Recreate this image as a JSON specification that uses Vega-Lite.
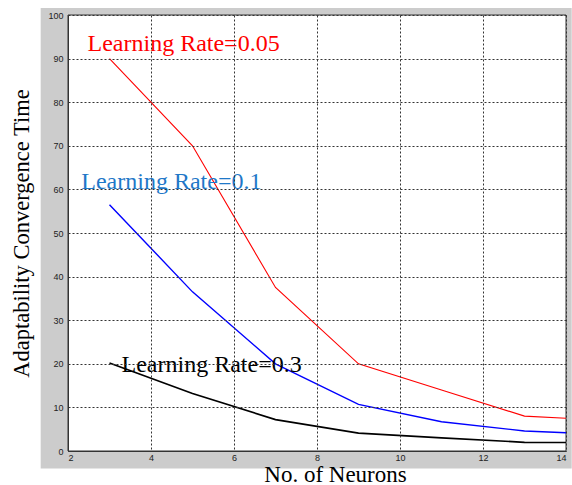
{
  "$schema": "https://vega.github.io/schema/vega-lite/v6.json",
  "width": 498,
  "height": 436,
  "autosize": {"type": "none"},
  "padding": {"left": 68, "top": 15, "right": 6, "bottom": 34},
  "background": "white",
  "config": {
    "view": {"stroke": null},
    "axis": {
      "grid": true,
      "gridColor": "#333333",
      "gridDash": [2, 2],
      "gridOpacity": 1,
      "gridWidth": 1,
      "domainColor": "#333333",
      "domainWidth": 1,
      "ticks": false,
      "labelFont": "Liberation Sans",
      "labelFontSize": 9,
      "labelColor": "#222222",
      "titleFont": "Liberation Serif",
      "titleFontWeight": "normal",
      "titleColor": "#000000"
    }
  },
  "datasets": {
    "frame": [{"x1": 1.342, "x2": 14.137, "y1": 101.6, "y2": -4.02}],
    "curves": [
      {"n": 3, "t": 90, "series": "0.05"},
      {"n": 5, "t": 70, "series": "0.05"},
      {"n": 7, "t": 37.5, "series": "0.05"},
      {"n": 9, "t": 20, "series": "0.05"},
      {"n": 11, "t": 14, "series": "0.05"},
      {"n": 13, "t": 8, "series": "0.05"},
      {"n": 14, "t": 7.5, "series": "0.05"},
      {"n": 3, "t": 56.5, "series": "0.1"},
      {"n": 5, "t": 36.5, "series": "0.1"},
      {"n": 7, "t": 20, "series": "0.1"},
      {"n": 9, "t": 10.7, "series": "0.1"},
      {"n": 11, "t": 6.7, "series": "0.1"},
      {"n": 13, "t": 4.6, "series": "0.1"},
      {"n": 14, "t": 4.2, "series": "0.1"},
      {"n": 3, "t": 20.2, "series": "0.3"},
      {"n": 5, "t": 13.2, "series": "0.3"},
      {"n": 7, "t": 7.2, "series": "0.3"},
      {"n": 9, "t": 4.1, "series": "0.3"},
      {"n": 11, "t": 3, "series": "0.3"},
      {"n": 13, "t": 2, "series": "0.3"},
      {"n": 14, "t": 1.95, "series": "0.3"}
    ],
    "labels": [
      {"n": 2.47, "t": 91.7, "label": "Learning Rate=0.05", "series": "0.05"},
      {"n": 2.32, "t": 60.2, "label": "Learning Rate=0.1", "series": "0.1"},
      {"n": 3.29, "t": 18.1, "label": "Learning Rate=0.3", "series": "0.3"}
    ]
  },
  "encoding": {
    "x": {
      "type": "quantitative",
      "scale": {"domain": [2, 14], "nice": false, "zero": false},
      "axis": {"zindex": 1, "values": [2, 4, 6, 8, 10, 12, 14], "labelPadding": 2, "title": "No. of Neurons", "titleFontSize": 23, "titleX": 267, "titleY": 30, "titleBaseline": "alphabetic"}
    },
    "y": {
      "type": "quantitative",
      "scale": {"domain": [0, 100], "nice": false, "zero": false},
      "axis": {"zindex": 1, "values": [0, 10, 20, 30, 40, 50, 60, 70, 80, 90, 100], "labelPadding": 5, "title": "Adaptability Convergence Time", "titleFontSize": 22.5, "titlePadding": 14}
    }
  },
  "layer": [
    {
      "data": {"name": "frame"},
      "mark": {"type": "rect", "fill": "#cccccc", "opacity": 1, "clip": false},
      "encoding": {
        "x": {"field": "x1", "type": "quantitative"},
        "x2": {"field": "x2"},
        "y": {"field": "y1", "type": "quantitative"},
        "y2": {"field": "y2"}
      }
    },
    {
      "data": {"name": "frame"},
      "mark": {"type": "rect", "fill": "white", "stroke": "#333333", "strokeWidth": 1},
      "encoding": {
        "x": {"datum": 2},
        "x2": {"datum": 14},
        "y": {"datum": 100},
        "y2": {"datum": 0}
      }
    },
    {
      "data": {"name": "curves"},
      "mark": {"type": "line"},
      "encoding": {
        "x": {"field": "n", "type": "quantitative"},
        "y": {"field": "t", "type": "quantitative"},
        "color": {"field": "series", "type": "nominal", "scale": {"domain": ["0.05", "0.1", "0.3"], "range": ["#ff0000", "#0000ff", "#000000"]}, "legend": null},
        "strokeWidth": {"field": "series", "type": "nominal", "scale": {"domain": ["0.05", "0.1", "0.3"], "range": [1.1, 1.7, 1.6]}, "legend": null}
      }
    },
    {
      "data": {"name": "labels"},
      "mark": {"type": "text", "align": "left", "baseline": "alphabetic", "font": "Liberation Serif", "fontSize": 24},
      "encoding": {
        "x": {"field": "n", "type": "quantitative"},
        "y": {"field": "t", "type": "quantitative"},
        "text": {"field": "label"},
        "color": {"field": "label", "type": "nominal", "scale": {"domain": ["Learning Rate=0.05", "Learning Rate=0.1", "Learning Rate=0.3"], "range": ["#ff0000", "#1f78c8", "#000000"]}, "legend": null}
      }
    }
  ],
  "resolve": {"scale": {"color": "independent"}}
}
